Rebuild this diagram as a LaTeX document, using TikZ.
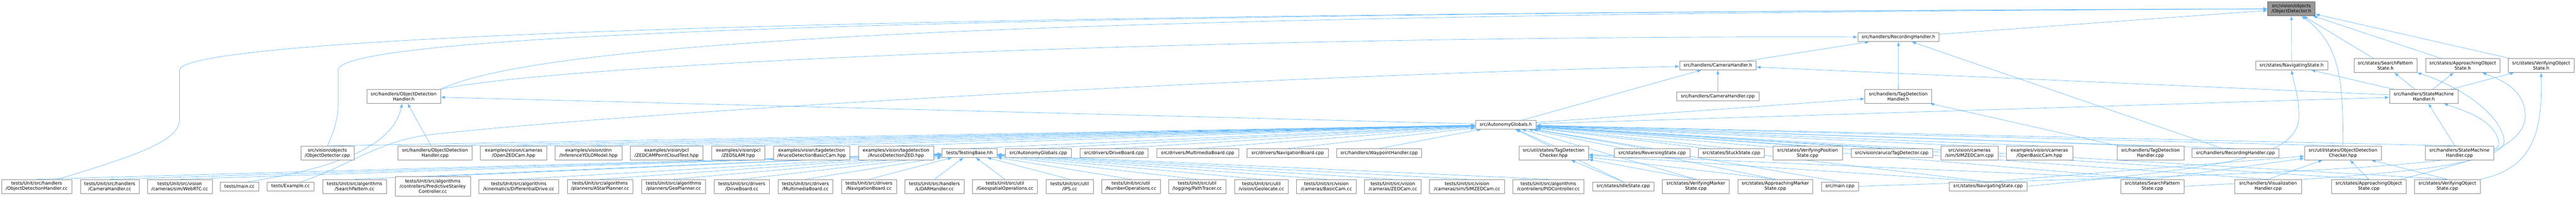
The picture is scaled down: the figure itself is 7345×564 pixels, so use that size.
\documentclass[tikz,border=0pt]{standalone}
\usepackage{fontspec}
\setmainfont{DejaVu Sans}
\usetikzlibrary{arrows.meta,backgrounds}
\definecolor{edgeblue}{HTML}{63B8FF}
\definecolor{boxline}{HTML}{8C8C8C}
\definecolor{rootfill}{HTML}{999999}
\definecolor{rootline}{HTML}{666666}
\begin{document}
\begin{tikzpicture}[x=1bp,y=-1bp,
        filebox/.style={draw=boxline, fill=white, line width=1bp, inner sep=0pt, minimum height=25bp, align=center, font=\fontsize{12.9}{14.8}\selectfont},
        twoline/.style={filebox, minimum height=39.6bp},
        threeline/.style={filebox, minimum height=55bp},
        rootbox/.style={twoline, fill=rootfill, draw=rootline},
        incl/.style={draw=edgeblue, line width=1bp, -{Latex[length=12bp,width=9bp]}}]
            \useasboundingbox (0,0) rectangle (7345,564);
            \node[rootbox, minimum width=135bp] (detH) at (6533.5,25) {src/vision/objects\\/ObjectDetector.h};
            \node[filebox, minimum width=232bp] (recH) at (5413,106) {src/handlers/RecordingHandler.h};
            \node[filebox, minimum width=218bp] (camH) at (4898,186.5) {src/handlers/CameraHandler.h};
            \node[filebox, minimum width=206bp] (navH) at (6534,186.5) {src/states/NavigatingState.h};
            \node[twoline, minimum width=179bp] (spsH) at (6801.5,186.7) {src/states/SearchPattern\\State.h};
            \node[twoline, minimum width=212bp] (aosH) at (7022,186.7) {src/states/ApproachingObject\\State.h};
            \node[twoline, minimum width=189bp] (vosH) at (7245.5,186.7) {src/states/VerifyingObject\\State.h};
            \node[twoline, minimum width=210bp] (odhH) at (1151,274.5) {src/handlers/ObjectDetection\\Handler.h};
            \node[filebox, minimum width=234bp] (camCpp) at (4898,274.5) {src/handlers/CameraHandler.cpp};
            \node[twoline, minimum width=191bp] (tdhH) at (5412.5,274.5) {src/handlers/TagDetection\\Handler.h};
            \node[twoline, minimum width=196bp] (smhH) at (6911,274.5) {src/handlers/StateMachine\\Handler.h};
            \node[filebox, minimum width=173bp] (agH) at (4293.5,355.2) {src/AutonomyGlobals.h};

            \node[twoline, minimum width=151bp] (detCpp) at (933.5,436) {src/vision/objects\\/ObjectDetector.cpp};
            \node[twoline, minimum width=211bp] (odhCpp) at (1240.5,436) {src/handlers/ObjectDetection\\Handler.cpp};
            \node[twoline, minimum width=189bp] (exZed) at (1464.5,436) {examples/vision/cameras\\/OpenZEDCam.hpp};
            \node[twoline, minimum width=190bp] (exYolo) at (1678,436) {examples/vision/dnn\\/InferenceYOLOModel.hpp};
            \node[twoline, minimum width=207bp] (exPcl) at (1900.5,436) {examples/vision/pcl\\/ZEDCAMPointCloudTest.hpp};
            \node[twoline, minimum width=152bp] (exSlam) at (2105,436) {examples/vision/pcl\\/ZEDSLAM.hpp};
            \node[twoline, minimum width=218bp] (exAruB) at (2314,436) {examples/vision/tagdetection\\/ArucoDetectionBasicCam.hpp};
            \node[twoline, minimum width=214bp] (exAruZ) at (2555,436) {examples/vision/tagdetection\\/ArucoDetectionZED.hpp};
            \node[filebox, minimum width=157bp] (base) at (2764.5,436) {tests/TestingBase.hh};
            \node[filebox, minimum width=189bp] (agCpp) at (2960.5,436) {src/AutonomyGlobals.cpp};
            \node[filebox, minimum width=195bp] (drvCpp) at (3176.5,436) {src/drivers/DriveBoard.cpp};
            \node[filebox, minimum width=234bp] (mmCpp) at (3415,436) {src/drivers/MultimediaBoard.cpp};
            \node[filebox, minimum width=231bp] (navbCpp) at (3671.5,436) {src/drivers/NavigationBoard.cpp};
            \node[filebox, minimum width=243bp] (wpCpp) at (3932.5,436) {src/handlers/WaypointHandler.cpp};
            \node[twoline, minimum width=198bp] (tdc) at (4430,436) {src/util/states/TagDetection\\Checker.hpp};
            \node[filebox, minimum width=216bp] (revCpp) at (4711,436) {src/states/ReversingState.cpp};
            \node[filebox, minimum width=187bp] (stuckCpp) at (4936.5,436) {src/states/StuckState.cpp};
            \node[twoline, minimum width=198bp] (vpsCpp) at (5154,436) {src/states/VerifyingPosition\\State.cpp};
            \node[filebox, minimum width=232bp] (tagCpp) at (5394,436) {src/vision/aruco/TagDetector.cpp};
            \node[twoline, minimum width=163bp] (simCpp) at (5615.5,436) {src/vision/cameras\\/sim/SIMZEDCam.cpp};
            \node[twoline, minimum width=190bp] (exBasic) at (5815,436) {examples/vision/cameras\\/OpenBasicCam.hpp};
            \node[twoline, minimum width=191bp] (tdhCpp) at (6131.5,436) {src/handlers/TagDetection\\Handler.cpp};
            \node[filebox, minimum width=248bp] (recCpp) at (6374,436) {src/handlers/RecordingHandler.cpp};
            \node[twoline, minimum width=219bp] (odc) at (6680.5,436) {src/util/states/ObjectDetection\\Checker.hpp};
            \node[twoline, minimum width=195bp] (smhCpp) at (7012.5,436) {src/handlers/StateMachine\\Handler.cpp};

            \node[twoline, minimum width=199bp] (tODH) at (104.5,531) {tests/Unit/src/handlers\\/ObjectDetectionHandler.cc};
            \node[twoline, minimum width=168bp] (tCam) at (313,531) {tests/Unit/src/handlers\\/CameraHandler.cc};
            \node[twoline, minimum width=185bp] (tWeb) at (512.5,531) {tests/Unit/src/vision\\/cameras/sim/WebRTC.cc};
            \node[filebox, minimum width=110bp] (tMain) at (683,531) {tests/main.cc};
            \node[filebox, minimum width=133bp] (tEx) at (828.5,531) {tests/Example.cc};
            \node[twoline, minimum width=182bp] (tSP) at (1011,531) {tests/Unit/src/algorithms\\/SearchPattern.cc};
            \node[threeline, minimum width=214bp] (tPSC) at (1234,531) {tests/Unit/src/algorithms\\/controllers/PredictiveStanley\\Controller.cc};
            \node[twoline, minimum width=228bp] (tDD) at (1479,531) {tests/Unit/src/algorithms\\/kinematics/DifferentialDrive.cc};
            \node[twoline, minimum width=186bp] (tAStar) at (1711,531) {tests/Unit/src/algorithms\\/planners/AStarPlanner.cc};
            \node[twoline, minimum width=183bp] (tGeoP) at (1920.5,531) {tests/Unit/src/algorithms\\/planners/GeoPlanner.cc};
            \node[twoline, minimum width=158bp] (tDrive) at (2115,531) {tests/Unit/src/drivers\\/DriveBoard.cc};
            \node[twoline, minimum width=157bp] (tMM) at (2296.5,531) {tests/Unit/src/drivers\\/MultimediaBoard.cc};
            \node[twoline, minimum width=157bp] (tNavB) at (2477.5,531) {tests/Unit/src/drivers\\/NavigationBoard.cc};
            \node[twoline, minimum width=169bp] (tLidar) at (2664.5,531) {tests/Unit/src/handlers\\/LiDARHandler.cc};
            \node[twoline, minimum width=185bp] (tGeo) at (2865.5,531) {tests/Unit/src/util\\/GeospatialOperations.cc};
            \node[twoline, minimum width=134bp] (tIPS) at (3050,531) {tests/Unit/src/util\\/IPS.cc};
            \node[twoline, minimum width=167bp] (tNum) at (3224.5,531) {tests/Unit/src/util\\/NumberOperations.cc};
            \node[twoline, minimum width=163bp] (tPath) at (3413.5,531) {tests/Unit/src/util\\/logging/PathTracer.cc};
            \node[twoline, minimum width=153bp] (tGeoloc) at (3596.5,531) {tests/Unit/src/util\\/vision/Geolocate.cc};
            \node[twoline, minimum width=170bp] (tBasic) at (3782,531) {tests/Unit/src/vision\\/cameras/BasicCam.cc};
            \node[twoline, minimum width=161bp] (tZed) at (3971.5,531) {tests/Unit/src/vision\\/cameras/ZEDCam.cc};
            \node[twoline, minimum width=214bp] (tSim) at (4183,531) {tests/Unit/src/vision\\/cameras/sim/SIMZEDCam.cc};
            \node[twoline, minimum width=202bp] (tPID) at (4415,531) {tests/Unit/src/algorithms\\/controllers/PIDController.cc};
            \node[filebox, minimum width=175bp] (idleCpp) at (4628.5,531) {src/states/IdleState.cpp};
            \node[twoline, minimum width=191bp] (vmsCpp) at (4835.5,531) {src/states/VerifyingMarker\\State.cpp};
            \node[twoline, minimum width=214bp] (amsCpp) at (5062,531) {src/states/ApproachingMarker\\State.cpp};
            \node[filebox, minimum width=106bp] (mainCpp) at (5246,531) {src/main.cpp};
            \node[filebox, minimum width=221bp] (navCpp) at (5668.5,531) {src/states/NavigatingState.cpp};
            \node[twoline, minimum width=180bp] (spsCpp) at (6137,531) {src/states/SearchPattern\\State.cpp};
            \node[twoline, minimum width=190bp] (visCpp) at (6467,531) {src/handlers/Visualization\\Handler.cpp};
            \node[twoline, minimum width=212bp] (aosCpp) at (6754,531) {src/states/ApproachingObject\\State.cpp};
            \node[twoline, minimum width=188bp] (vosCpp) at (6978,531) {src/states/VerifyingObject\\State.cpp};

            \begin{scope}[on background layer]
            \foreach \src in {detCpp,odhCpp,exZed,exYolo,exPcl,exSlam,exAruB,exAruZ,base,agCpp,drvCpp,mmCpp,navbCpp,wpCpp,tdc,revCpp,stuckCpp,vpsCpp,tagCpp,simCpp,exBasic,tdhCpp,recCpp,odc,smhCpp,idleCpp,vmsCpp,amsCpp,mainCpp,navCpp,spsCpp,visCpp,aosCpp,vosCpp}
            \draw[incl] (\src.north) -- (agH);
            \foreach \src in {tODH,tCam,tWeb,tSP,tPSC,tDD,tAStar,tGeoP,tDrive,tMM,tNavB,tLidar,tGeo,tIPS,tNum,tPath,tGeoloc,tBasic,tZed,tSim,tPID}
            \draw[incl] (\src.north) -- (base);
            \foreach \src in {recH,navH,spsH,aosH,vosH}
            \draw[incl] (\src) -- (detH);
            \foreach \src in {camH,tdhH,recCpp}
            \draw[incl] (\src) -- (recH);
            \foreach \src in {agH,camCpp,smhH}
            \draw[incl] (\src) -- (camH);
            \foreach \dst in {navH,spsH,aosH,vosH}
            \draw[incl] (smhH) -- (\dst);
            \foreach \dst in {odhH,tdhH,smhH}
            \draw[incl] (agH) -- (\dst);
            \foreach \src in {idleCpp,vmsCpp,amsCpp,navCpp,spsCpp}
            \draw[incl] (\src.north) -- (tdc);
            \foreach \src in {navCpp,spsCpp,visCpp,aosCpp,vosCpp}
            \draw[incl] (\src.north) -- (odc);
            \draw[incl] (odhCpp) -- (odhH);
            \draw[incl] (tdhCpp) -- (tdhH);
            \draw[incl] (smhCpp) -- (smhH);
            \draw[incl] (odhH.north east) .. controls (1600,90) and (3500,40) .. (detH);
            \draw[incl] (odhH.north east) .. controls (1600,180) and (3500,100) .. (recH);
            \draw[incl] ([xshift=60bp]tODH.north) .. controls (400,440) and (512,400) .. (512,340) -- (512,200) .. controls (512,130) and (1600,40) .. (detH);
            \draw[incl] (detCpp.north) .. controls (950,380) and (964,340) .. (964,300) -- (964,200) .. controls (964,120) and (2000,40) .. (detH);
            \draw[incl] ([xshift=25bp]tMain.north) .. controls (950,480) and (1120,420) .. (odhH);
            \draw[incl] ([xshift=30bp]tEx.north) .. controls (1000,470) and (1080,400) .. (1232,383) .. controls (1800,320) and (3500,220) .. (camH);
            \draw[incl] (odc.north) .. controls (6680,250) and (6680,130) .. (detH);
            \draw[incl] (navCpp.east) .. controls (6350,475) and (6555,450) .. (6555,330) .. controls (6555,270) and (6540,240) .. (navH.south);
            \draw[incl] (spsCpp.east) .. controls (6700,505) and (7150,480) .. (7140,400) .. controls (7130,320) and (7000,240) .. (spsH.south east);
            \draw[incl] (mainCpp.east) .. controls (6000,505) and (7130,490) .. (7125,410) .. controls (7120,340) and (7010,310) .. (smhH);
            \draw[incl] ([xshift=90bp]aosCpp.north) .. controls (7000,470) and (7200,430) .. (7200,330) .. controls (7200,260) and (7140,230) .. (aosH);
            \draw[incl] (vosCpp.north east) .. controls (7220,480) and (7250,380) .. (vosH.south);
            \end{scope}
        \end{tikzpicture}
\end{document}
